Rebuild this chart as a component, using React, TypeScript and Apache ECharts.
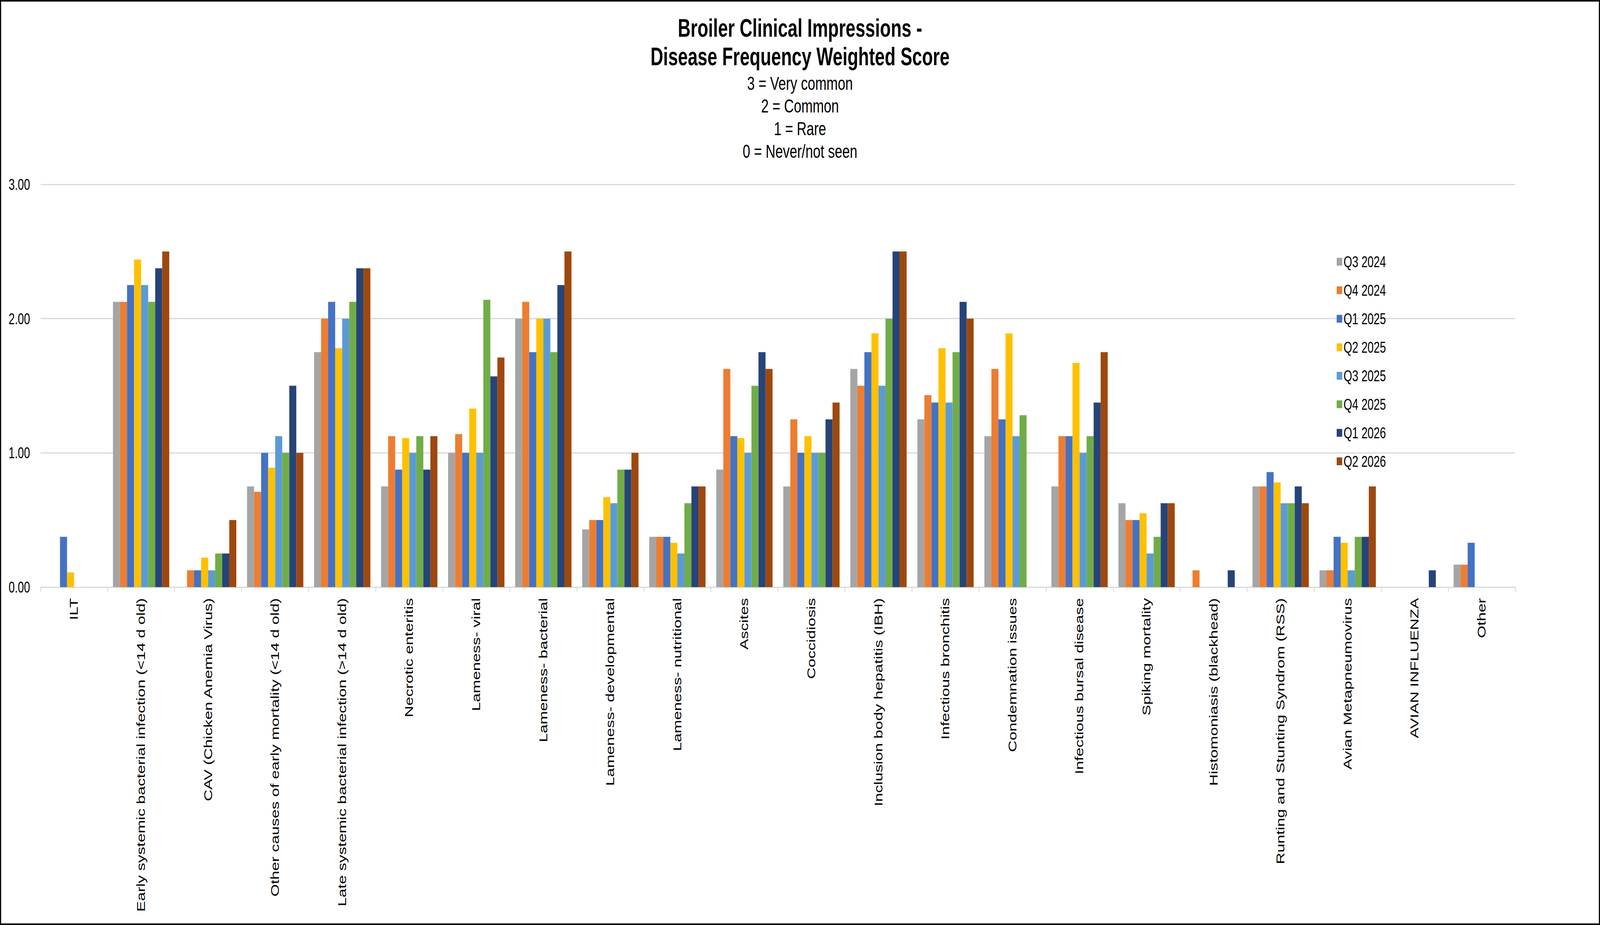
import React, { useEffect, useRef } from "react";
import * as echarts from "echarts";

const W = 5797;
const H = 2368;

const categories = [
  "ILT",
  "Early systemic bacterial infection (<14 d old)",
  "CAV (Chicken Anemia Virus)",
  "Other causes of early mortality (<14 d old)",
  "Late systemic bacterial infection (>14 d old)",
  "Necrotic enteritis",
  "Lameness- viral",
  "Lameness- bacterial",
  "Lameness- developmental",
  "Lameness- nutritional",
  "Ascites",
  "Coccidiosis",
  "Inclusion body hepatitis (IBH)",
  "Infectious bronchitis",
  "Condemnation issues",
  "Infectious bursal disease",
  "Spiking mortality",
  "Histomoniasis (blackhead)",
  "Runting and Stunting Syndrom (RSS)",
  "Avian Metapneumovirus",
  "AVIAN INFLUENZA",
  "Other",
];

const seriesNames = ["Q3 2024", "Q4 2024", "Q1 2025", "Q2 2025", "Q3 2025", "Q4 2025", "Q1 2026", "Q2 2026"];
const seriesColors = ["#A5A5A5", "#ED7D31", "#4472C4", "#FFC000", "#5B9BD5", "#70AD47", "#264478", "#9E480E"];

const q3_2024 = [0, 2.125, 0, 0.75, 1.75, 0.75, 1.0, 2.0, 0.43, 0.375, 0.875, 0.75, 1.625, 1.25, 1.125, 0.75, 0.625, 0, 0.75, 0.125, 0, 0.167];
const q4_2024 = [0, 2.125, 0.125, 0.71, 2.0, 1.125, 1.14, 2.125, 0.5, 0.375, 1.625, 1.25, 1.5, 1.43, 1.625, 1.125, 0.5, 0.125, 0.75, 0.125, 0, 0.167];
const q1_2025 = [0.375, 2.25, 0.125, 1.0, 2.125, 0.875, 1.0, 1.75, 0.5, 0.375, 1.125, 1.0, 1.75, 1.375, 1.25, 1.125, 0.5, 0, 0.857, 0.375, 0, 0.33];
const q2_2025 = [0.11, 2.44, 0.22, 0.89, 1.78, 1.11, 1.33, 2.0, 0.67, 0.33, 1.11, 1.125, 1.89, 1.78, 1.89, 1.67, 0.55, 0, 0.78, 0.33, 0, 0];
const q3_2025 = [0, 2.25, 0.125, 1.125, 2.0, 1.0, 1.0, 2.0, 0.625, 0.25, 1.0, 1.0, 1.5, 1.375, 1.125, 1.0, 0.25, 0, 0.625, 0.125, 0, 0];
const q4_2025 = [0, 2.125, 0.25, 1.0, 2.125, 1.125, 2.14, 1.75, 0.875, 0.625, 1.5, 1.0, 2.0, 1.75, 1.28, 1.125, 0.375, 0, 0.625, 0.375, 0, 0];
const q1_2026 = [0, 2.375, 0.25, 1.5, 2.375, 0.875, 1.57, 2.25, 0.875, 0.75, 1.75, 1.25, 2.5, 2.125, 0, 1.375, 0.625, 0.125, 0.75, 0.375, 0.125, 0];
const q2_2026 = [0, 2.5, 0.5, 1.0, 2.375, 1.125, 1.71, 2.5, 1.0, 0.75, 1.625, 1.375, 2.5, 2.0, 0, 1.75, 0.625, 0, 0.625, 0.75, 0, 0];

const seriesValues = [q3_2024, q4_2024, q1_2025, q2_2025, q3_2025, q4_2025, q1_2026, q2_2026];

const titleText = "Broiler Clinical Impressions -\nDisease Frequency Weighted Score";
const subText = "3 = Very common\n2 = Common\n1 = Rare\n0 = Never/not seen";

const FONT = "'Liberation Sans', Arial, Helvetica, sans-serif";

export default function App() {
  const ref = useRef<HTMLDivElement>(null);
  const vw = (typeof window !== "undefined" && window.innerWidth) || W;
  const vh = (typeof window !== "undefined" && window.innerHeight) || H;
  const sx = vw / W;
  const sy = vh / H;

  useEffect(() => {
    document.documentElement.style.overflow = "hidden";
    document.body.style.overflow = "hidden";
    document.body.style.margin = "0";
    if (!ref.current) return;
    const chart = echarts.init(ref.current, undefined, { renderer: "svg", width: W, height: H });
    const option = {
      animation: false,
      backgroundColor: "#ffffff",
      textStyle: { fontFamily: FONT },
      title: {
        text: titleText,
        subtext: subText,
        left: "center",
        top: 31,
        itemGap: 2,
        textStyle: { fontFamily: FONT, fontSize: 64, fontWeight: "bold", color: "#000", lineHeight: 73 },
        subtextStyle: { fontFamily: FONT, fontSize: 49, color: "#000", lineHeight: 58 },
      },
      legend: {
        orient: "vertical",
        left: 4838,
        top: 645,
        itemWidth: 20,
        itemHeight: 20,
        itemGap: 33,
        icon: "rect",
        data: seriesNames,
        textStyle: { fontFamily: FONT, fontSize: 40, lineHeight: 40, color: "#000" },
      },
      grid: { left: 147, right: W - 5490, top: 472, bottom: H - 1503, containLabel: false },
      xAxis: {
        type: "category",
        data: categories,
        axisLine: { show: true, lineStyle: { color: "#D9D9D9", width: 3 } },
        axisTick: { show: true, length: 12, lineStyle: { color: "#D9D9D9", width: 3 } },
        axisLabel: { interval: 0, rotate: 90, fontSize: 41, color: "#000", margin: 28, fontFamily: FONT },
      },
      yAxis: {
        type: "value",
        min: 0,
        max: 3,
        interval: 1,
        axisLine: { show: false },
        axisTick: { show: false },
        axisLabel: { fontSize: 40, color: "#000", margin: 38, fontFamily: FONT, formatter: (v: number) => v.toFixed(2) },
        splitLine: { lineStyle: { color: "#D9D9D9", width: 3 } },
      },
      series: seriesNames.map((name, i) => ({
        name,
        type: "bar",
        data: seriesValues[i],
        barGap: "0%",
        barCategoryGap: "16%",
        itemStyle: { color: seriesColors[i] },
      })),
      graphic: [
        {
          type: "rect",
          silent: true,
          z: 100,
          shape: { x: 0, y: 0, width: W, height: H },
          style: { fill: "none", stroke: "#000", lineWidth: 8 },
        },
      ],
    };
    chart.setOption(option);
    return () => chart.dispose();
  }, []);

  return (
    <div
      ref={ref}
      style={{
        position: "absolute",
        left: 0,
        top: 0,
        width: W,
        height: H,
        transform: `scale(${sx}, ${sy})`,
        transformOrigin: "0 0",
      }}
    />
  );
}
